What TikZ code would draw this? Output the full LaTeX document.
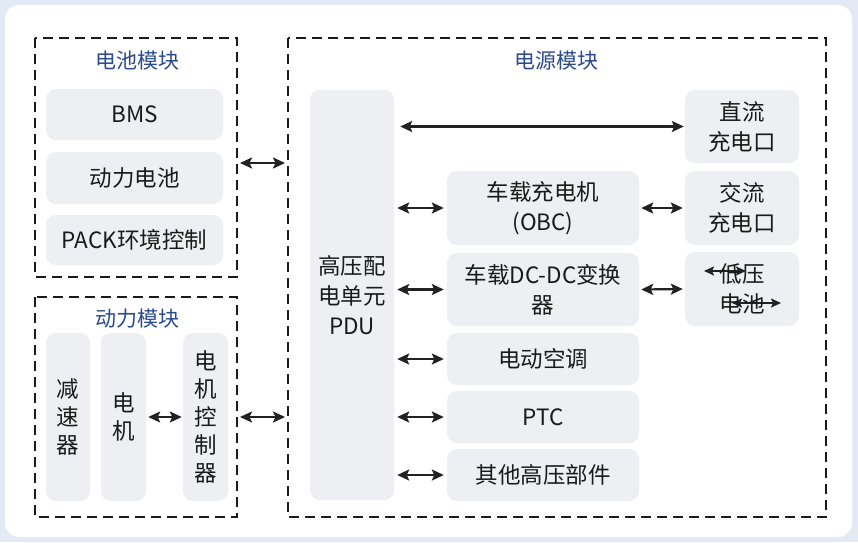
\documentclass[tikz,border=0pt]{standalone}
\usepackage{fontspec}
\setmainfont{Noto Sans CJK SC}
\usetikzlibrary{arrows.meta}
\definecolor{bgblue}{HTML}{E3EAF5}
\definecolor{boxfill}{HTML}{EEEFF3}
\definecolor{titleblue}{HTML}{2B4A8E}
\definecolor{ink}{HTML}{1A1A1A}
\definecolor{arrowink}{HTML}{222222}
\tikzset{
  box/.style={fill=boxfill, rounded corners=10pt, inner sep=0pt, align=center, text=ink,
    font=\fontsize{22.5}{30}\selectfont},
  vbox/.style={box, font=\fontsize{22.5}{28}\selectfont},
  module/.style={draw=ink, line width=2.3pt, dash pattern=on 10pt off 6pt},
  mtitle/.style={text=titleblue, font=\fontsize{21}{24}\selectfont, inner sep=0pt},
  tip/.style={Stealth[length=12pt,width=11pt,inset=2.5pt]},
  link/.style={arrowink, line width=2.2pt, {Stealth[length=12pt,width=11pt,inset=2.5pt]}-{Stealth[length=12pt,width=11pt,inset=2.5pt]}},
  slink/.style={arrowink, line width=1.8pt, {Stealth[length=10pt,width=9pt,inset=2pt]}-{Stealth[length=10pt,width=9pt,inset=2pt]}}
}
\begin{document}
\begin{tikzpicture}[x=1pt,y=-1pt]
\useasboundingbox (0,0) rectangle (858,542);
\fill[bgblue] (0,0) rectangle (858,542);
\fill[white, rounded corners=14pt] (5,5) rectangle (852,537);

% modules
\draw[module] (35,38) rectangle (237,277);
\node[mtitle] (t1) at (137,61) {电池模块};
\draw[module] (35,297) rectangle (237,517);
\node[mtitle] (t2) at (137,319) {动力模块};
\draw[module] (288,38) rectangle (826,517);
\node[mtitle] (t3) at (556,61) {电源模块};

% coordinates on module borders
\coordinate (m1r) at (237,163);
\coordinate (m2r) at (237,417);
\coordinate (m3a) at (288,163);
\coordinate (m3b) at (288,417);

% battery module
\node[box, minimum width=177pt, minimum height=51pt] (bms) at (134.5,114.5) {BMS};
\node[box, minimum width=177pt, minimum height=52pt] (bat) at (134.5,178) {动力电池};
\node[box, minimum width=177pt, minimum height=50pt] (pack) at (134.5,240) {PACK环境控制};

% power module
\node[vbox, minimum width=44pt, minimum height=168pt] (red) at (68,417) {减\\速\\器};
\node[vbox, minimum width=45pt, minimum height=168pt] (mot) at (123.5,417) {电\\机};
\node[vbox, minimum width=45pt, minimum height=168pt] (mcu) at (205.5,417) {电\\机\\控\\制\\器};

% supply module
\node[box, minimum width=84pt, minimum height=410pt] (pdu) at (352,295) {高压配\\电单元\\PDU};
\node[box, minimum width=114pt, minimum height=73pt] (dc) at (742,126.5) {直流\\充电口};
\node[box, minimum width=114pt, minimum height=74pt] (ac) at (742,208) {交流\\充电口};
\node[box, minimum width=114pt, minimum height=74pt] (lv) at (742,289) {};
\node[box, minimum width=192pt, minimum height=74pt] (obc) at (543,208) {车载充电机\\(OBC)};
\node[box, minimum width=192pt, minimum height=73pt] (dcdc) at (543,289.5) {车载DC-DC变换\\器};
\node[box, minimum width=192pt, minimum height=52pt] (air) at (543,359) {电动空调};
\node[box, minimum width=192pt, minimum height=52pt] (ptc) at (543,417) {PTC};
\node[box, minimum width=192pt, minimum height=52pt] (oth) at (543,475) {其他高压部件};

% connectors
\draw[link] ([xshift=3pt]m1r) -- ([xshift=-3pt]m3a);
\draw[link] ([xshift=3pt]m2r) -- ([xshift=-3pt]m3b);
\draw[link] ([xshift=2pt]mot.east) -- ([xshift=-1pt]mcu.west);
\draw[link] ([xshift=6pt]pdu.east |- dc.west) -- ([xshift=-1pt]dc.west);
\draw[link] ([xshift=3pt]pdu.east |- obc.west) -- ([xshift=-3pt]obc.west);
\draw[link] ([xshift=3pt]pdu.east |- dcdc.west) -- ([xshift=-3pt]dcdc.west);
\draw[link] ([xshift=3pt]pdu.east |- air.west) -- ([xshift=-3pt]air.west);
\draw[link] ([xshift=3pt]pdu.east |- ptc.west) -- ([xshift=-3pt]ptc.west);
\draw[link] ([xshift=3pt]pdu.east |- oth.west) -- ([xshift=-3pt]oth.west);
\draw[link] ([xshift=2pt]obc.east) -- ([xshift=-2pt]ac.west);
\draw[link] ([xshift=2pt]dcdc.east) -- ([xshift=-2pt]lv.west);

% stray arrows inside the low-voltage battery box
\coordinate (s1a) at (704,271);
\coordinate (s1b) at (746,271);
\coordinate (s2a) at (732,303);
\coordinate (s2b) at (781,303);
\draw[slink] (s1a) -- (s1b);
\draw[slink] (s2a) -- (s2b);
\node[inner sep=0pt, align=center, text=ink, font=\fontsize{22.5}{30}\selectfont] (lvtext) at (lv.center) {低压\\电池};
\end{tikzpicture}
\end{document}
